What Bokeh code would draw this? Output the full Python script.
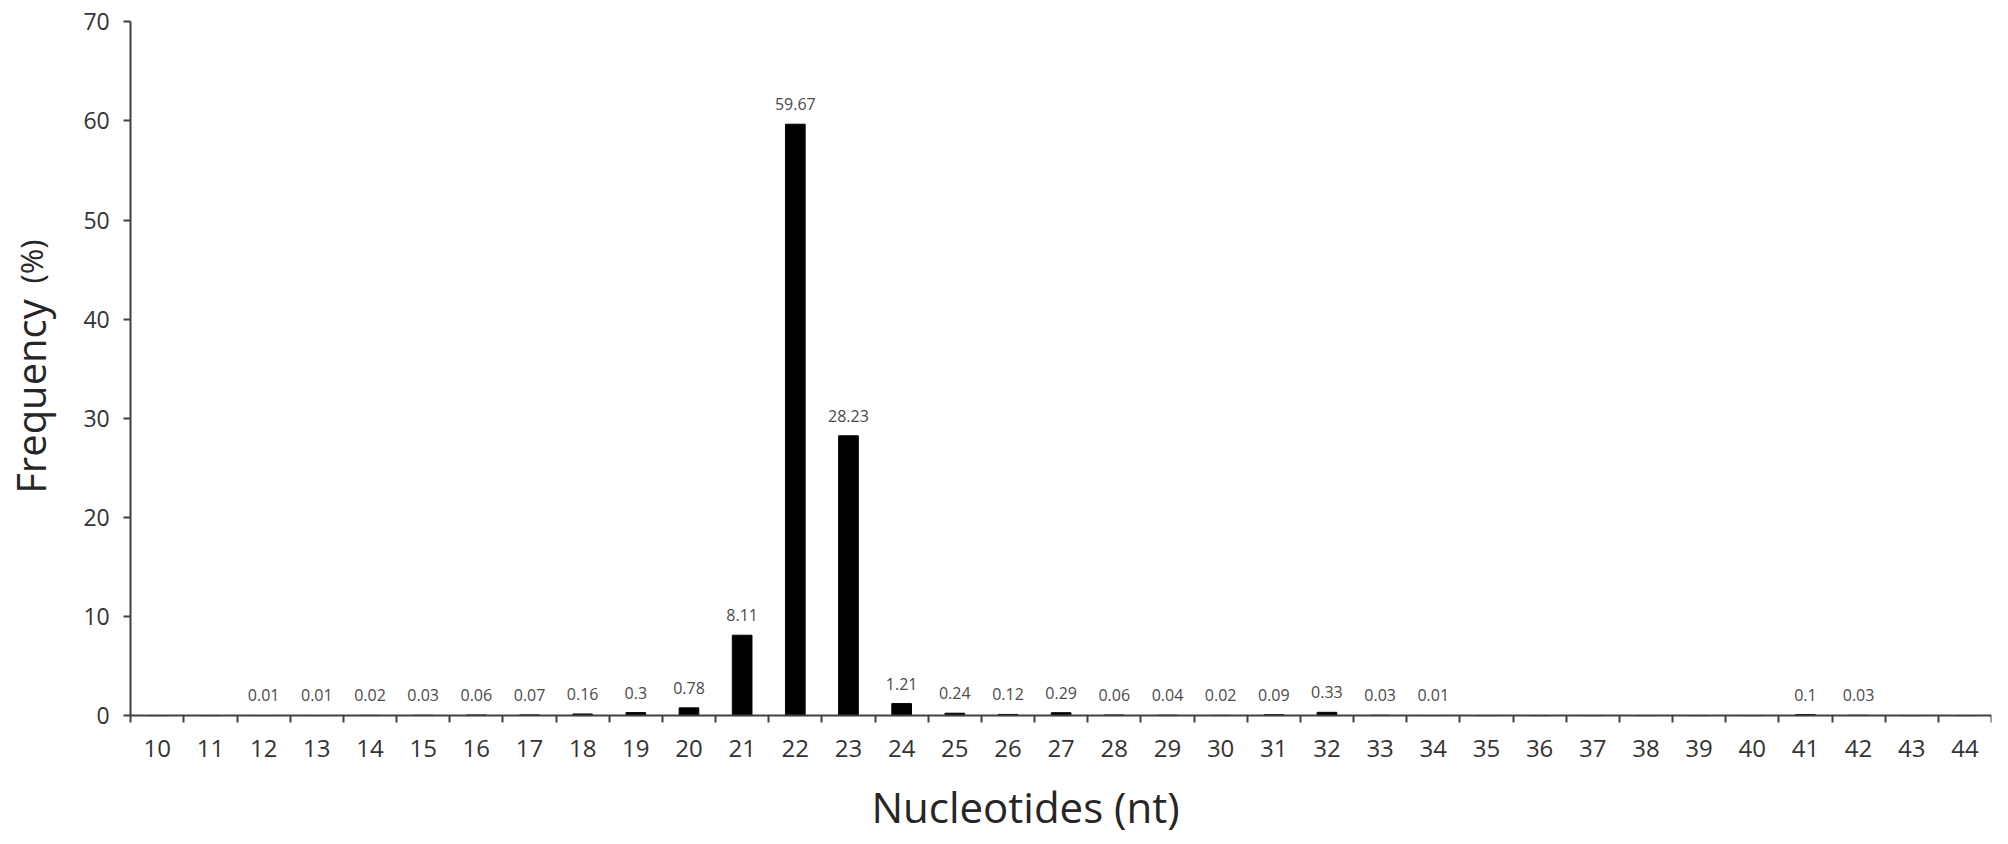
import math
from bokeh.plotting import figure
from bokeh.models import ColumnDataSource, FixedTicker, Label, Range1d, LabelSet
from bokeh.core.properties import value
from bokeh.embed import file_html
from bokeh.resources import INLINE

lengths = list(range(10, 45))
freqs = [0, 0, 0.01, 0.01, 0.02, 0.03, 0.06, 0.07, 0.16, 0.3, 0.78, 8.11, 59.67, 28.23,
         1.21, 0.24, 0.12, 0.29, 0.06, 0.04, 0.02, 0.09, 0.33, 0.03, 0.01,
         0, 0, 0, 0, 0, 0, 0.1, 0.03, 0, 0]
bar_labels = ["", "", "0.01", "0.01", "0.02", "0.03", "0.06", "0.07", "0.16", "0.3", "0.78",
              "8.11", "59.67", "28.23", "1.21", "0.24", "0.12", "0.29", "0.06", "0.04", "0.02",
              "0.09", "0.33", "0.03", "0.01", "", "", "", "", "", "", "0.1", "0.03", "", ""]
y_ticks = [0, 10, 20, 30, 40, 50, 60, 70]

src = ColumnDataSource(dict(x=lengths, y=freqs, lab=bar_labels))

x_lo = lengths[0] - 0.5
x_hi = lengths[-1] + 0.5
y_lo, y_hi = y_ticks[0], y_ticks[-1]
# the frame fills the canvas; both axes are drawn at fixed positions inside it
p = figure(width=1999, height=836, output_backend="svg", toolbar_location=None,
           x_range=Range1d(x_lo - 2.45, x_hi), y_range=Range1d(y_lo - 12.2, y_hi + 2.15),
           min_border_left=0, min_border_right=8, min_border_top=0, min_border_bottom=0)
p.outline_line_color = None
p.grid.grid_line_color = None
p.background_fill_color = "white"

p.vbar(x="x", top="y", width=0.37, bottom=0, source=src, fill_color="black", line_color="black")

p.add_layout(LabelSet(x="x", y="y", text="lab", source=src, text_align="center",
                      text_baseline="middle", y_offset=20, text_font=value("Open Sans"),
                      text_font_size="16px", text_color="#4a4a4a"))

axis_col = "#404040"
xa = p.xaxis[0]
xa.fixed_location = y_lo
xa.bounds = (x_lo, x_hi)
xa.ticker = FixedTicker(ticks=lengths, minor_ticks=[v - 0.5 for v in lengths] + [x_hi])
xa.major_tick_out = 0
xa.major_tick_in = 0
xa.minor_tick_out = 7
xa.minor_tick_in = 0
xa.minor_tick_line_color = axis_col
xa.minor_tick_line_width = 2
xa.axis_line_color = axis_col
xa.axis_line_width = 2
xa.major_label_text_font = "Open Sans"
xa.major_label_text_font_size = "24px"
xa.major_label_text_color = "#333333"
xa.major_label_standoff = 17

ya = p.yaxis[0]
ya.fixed_location = x_lo
ya.bounds = (y_lo, y_hi)
ya.ticker = FixedTicker(ticks=y_ticks)
ya.minor_tick_line_color = None
ya.major_tick_out = 7
ya.major_tick_in = 0
ya.major_tick_line_color = axis_col
ya.major_tick_line_width = 2
ya.axis_line_color = axis_col
ya.axis_line_width = 2
ya.major_label_text_font = "Open Sans"
ya.major_label_text_font_size = "23px"
ya.major_label_text_color = "#333333"
ya.major_label_standoff = 14

p.add_layout(Label(x=1025, y=30, x_units="screen", y_units="screen", text="Nucleotides (nt)",
                   text_align="center", text_baseline="middle",
                   text_font="Open Sans", text_font_size="42px", text_color="#262626"))
p.add_layout(Label(x=30, y=440, x_units="screen", y_units="screen", text="Frequency",
                   angle=math.pi / 2, text_align="center", text_baseline="middle",
                   text_font="Open Sans", text_font_size="40px", text_color="#262626"))
p.add_layout(Label(x=30, y=575, x_units="screen", y_units="screen", text="(%)",
                   angle=math.pi / 2, text_align="center", text_baseline="middle",
                   text_font="Open Sans", text_font_size="31px", text_color="#262626"))

open("out.html", "w").write(file_html(p, INLINE))
